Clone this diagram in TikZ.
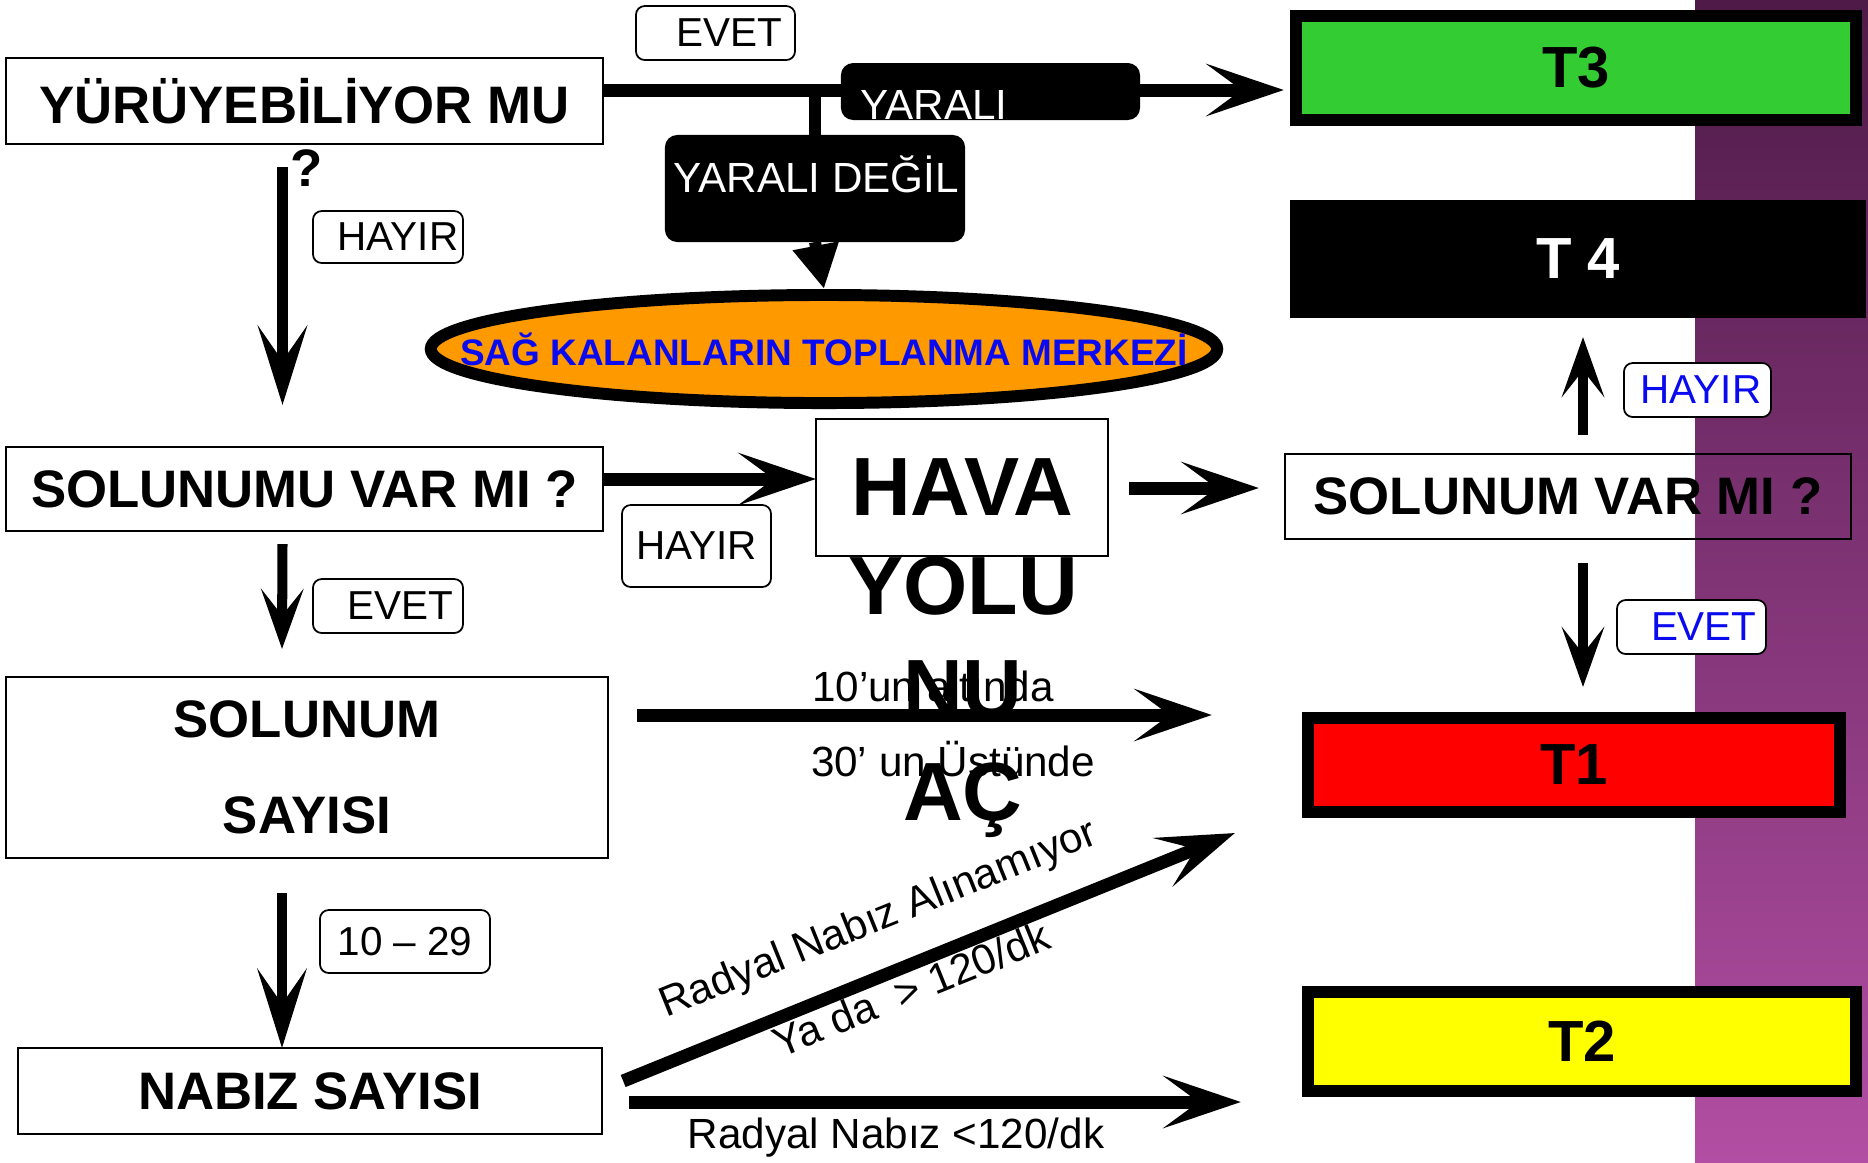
\documentclass[tikz,border=0pt]{standalone}
\usepackage{fontspec}
\setmainfont{Liberation Sans}
\usetikzlibrary{arrows.meta,calc,shapes.geometric}

\definecolor{tgreen}{RGB}{51,204,51}
\definecolor{tred}{RGB}{255,0,0}
\definecolor{tyellow}{RGB}{255,255,0}
\definecolor{torange}{RGB}{255,153,0}
\definecolor{tblue}{RGB}{10,10,240}
\definecolor{bandtop}{RGB}{78,26,72}
\definecolor{bandbot}{RGB}{178,78,163}

\tikzset{
  qbox/.style={draw, line width=0.6pt, inner sep=0pt, outer sep=0pt, font=\fontsize{15}{18}\selectfont\bfseries},
  tag/.style={draw, fill=white, rounded corners=2.5pt, line width=0.5pt, inner sep=0pt, font=\fontsize{11.5}{14}\selectfont},
  darkbox/.style={fill=black, rounded corners=3.5pt, inner sep=0pt, outer sep=0pt},
  tbox/.style={draw, line width=3.4pt, inner sep=0pt, outer sep=0pt, font=\fontsize{16.5}{20}\selectfont\bfseries},
  note/.style={font=\fontsize{12}{14}\selectfont, inner sep=0pt},
  thin arrow/.style={line width=2.85pt, -{Stealth[length=17pt, width=12pt, inset=7.5pt]}},
  mid arrow/.style={line width=3pt, -{Stealth[length=22.5pt, width=14pt, inset=10pt]}},
  fat arrow/.style={line width=3.7pt, -{Stealth[length=22pt, width=14.8pt, inset=10pt]}},
}

\begin{document}
\begin{tikzpicture}[x=0.01cm, y=-0.01cm]
\useasboundingbox (0,0) rectangle (1868,1162);
\shade[top color=bandtop, bottom color=bandbot] (1695,0) rectangle (1868,1162);

% left column
\node[qbox, minimum width=5.97cm, minimum height=0.86cm] (walk) at (304.5,101) {YÜRÜYEBİLİYOR MU};
\node[font=\fontsize{15}{18}\selectfont\bfseries, inner sep=0pt] (qmark) at (307,168) {?};
\node[qbox, minimum width=5.97cm, minimum height=0.84cm] (breathe) at (304.5,489) {SOLUNUMU VAR MI ?};
\node[qbox, minimum width=6.02cm, minimum height=1.81cm, align=center, font=\fontsize{15}{27.3}\selectfont\bfseries] (rate) at (307,767.5) {SOLUNUM\\SAYISI};
\node[qbox, minimum width=5.84cm, minimum height=0.86cm] (pulse) at (310,1091) {NABIZ SAYISI};

% middle
\node[darkbox, minimum width=3.00cm, minimum height=1.07cm] (unhurt) at (815,188.5) {};
\node[ellipse, draw, line width=3.4pt, fill=torange, minimum width=7.86cm, minimum height=1.08cm, inner sep=0pt, outer sep=0pt] (camp) at (824,349) {};
\node[text=tblue, inner sep=0pt, font=\fontsize{10.5}{12}\selectfont\bfseries] (camptext) at (camp.center) {SAĞ KALANLARIN TOPLANMA MERKEZİ};
\node[qbox, fill=white, minimum width=2.92cm, minimum height=1.37cm, font=\fontsize{23.5}{29}\selectfont\bfseries] (airway) at (962,487.5) {HAVA};

% right column
\node[tbox, fill=tgreen, minimum width=5.60cm, minimum height=1.04cm] (tthree) at (1576,68) {T3};
\node[fill=black, text=white, inner sep=0pt, outer sep=0pt, minimum width=5.76cm, minimum height=1.18cm, font=\fontsize{16.5}{20}\selectfont\bfseries] (tfour) at (1578,259) {T 4};
\node[qbox, minimum width=5.66cm, minimum height=0.85cm] (breathetwo) at (1568,496.5) {SOLUNUM VAR MI ?};
\node[tbox, fill=tred, minimum width=5.32cm, minimum height=0.94cm] (tone) at (1574,765) {T1};
\node[tbox, fill=tyellow, minimum width=5.48cm, minimum height=0.99cm] (ttwo) at (1582,1041.5) {T2};

% connectors
\draw[fat arrow] ($(walk.east)+(0,-11)$) -- ($(tthree.west)+(-12,22)$);
\draw[line width=3.4pt] (unhurt.north) -- ++(0,-46);
\draw[line width=3.4pt, -{Triangle[length=12.5pt, width=12.5pt]}] (unhurt.south) -- ($(camp.north)+(0,-6)$);
\draw[mid arrow] ($(walk.south)+(-22,23)$) -- ($(breathe.north)+(-22,-42)$);
\draw[thin arrow] ($(breathe.south)+(-22,13)$) -- ($(rate.north)+(-25,-28)$);
\draw[mid arrow] ($(rate.south)+(-25,35)$) -- ($(pulse.north)+(-28,0)$);
\draw[fat arrow] ($(breathe.east)+(0,-10)$) -- ($(airway.west)+(0,-8.5)$);
\draw[fat arrow] ($(airway.east)+(21,0.5)$) -- ($(breathetwo.west)+(-26,-8.5)$);
\draw[thin arrow] ($(breathetwo.north)+(15,-19)$) -- ($(tfour.south)+(5,19)$);
\draw[thin arrow] ($(breathetwo.south)+(15,24)$) -- ($(tone.north)+(9,-31)$);
\draw[fat arrow] ($(rate.east)+(29,-52.5)$) -- ($(tone.west)+(-96,-50)$);
\draw[fat arrow] ($(pulse.east)+(21,-10)$) -- ($(tone.south west)+(-73,21)$);
\draw[fat arrow] ($(pulse.east)+(27,11)$) -- ($(ttwo.west)+(-67,60.5)$);

% boxes over the lines
\node[darkbox, minimum width=2.99cm, minimum height=0.57cm] (injured) at (990.5,91.5) {};
\node[text=white, font=\fontsize{12}{14}\selectfont, anchor=base west, inner sep=0pt] (injuredtext) at ($(injured.south west)+(19,-1)$) {YARALI};
\node[text=white, font=\fontsize{12}{14}\selectfont, anchor=base west, inner sep=0pt] (unhurttext) at ($(unhurt.north west)+(8,58)$) {YARALI DEĞİL};
\node[anchor=north, align=center, inner sep=0pt, font=\fontsize{23.5}{29.3}\selectfont\bfseries] (airwaytext) at ($(airway.south)+(1,0)$) {YOLU\\NU\\AÇ};

% tags
\node[tag, minimum width=1.59cm, minimum height=0.54cm] (yes1) at (715.5,33) {\hspace*{8pt}EVET};
\node[tag, minimum width=1.50cm, minimum height=0.52cm] (no1) at (388,237) {\hspace*{5.7pt}HAYIR};
\node[tag, minimum width=1.49cm, minimum height=0.82cm] (no2) at (696.5,546) {HAYIR};
\node[tag, minimum width=1.50cm, minimum height=0.54cm] (yes2) at (388,606) {\hspace*{7pt}EVET};
\node[tag, minimum width=1.70cm, minimum height=0.63cm] (span) at (405,941.5) {10 – 29};
\node[tag, text=tblue, minimum width=1.47cm, minimum height=0.54cm] (no3) at (1697.5,390) {\hspace*{2pt}HAYIR};
\node[tag, text=tblue, minimum width=1.49cm, minimum height=0.54cm] (yes3) at (1691.5,627) {\hspace*{7pt}EVET};

% arrow texts
\node[note] (lowrate) at (933,686) {10’un altında};
\node[note] (highrate) at (953,759) {30’ un Üstünde};
\node[note, rotate=22] (nopulse) at (879,920) {Radyal Nabız Alınamıyor};
\node[note, rotate=22] (fastpulse) at (911,989) {Ya da\ \ > 120/dk};
\node[note] (slowpulse) at (896,1138) {Radyal Nabız <120/dk};
\end{tikzpicture}
\end{document}
